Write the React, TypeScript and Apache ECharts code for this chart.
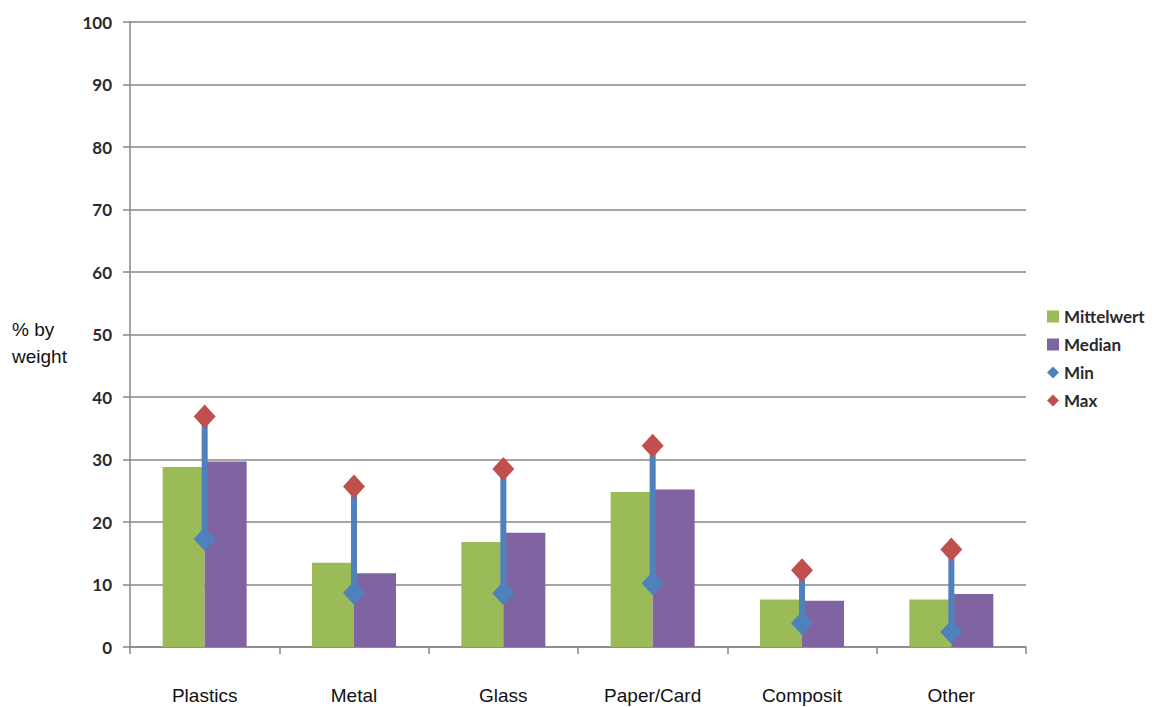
import React, { useEffect, useRef } from "react";
import * as echarts from "echarts";

const categories = ["Plastics", "Metal", "Glass", "Paper/Card", "Composit", "Other"];
const meanValues = [28.8, 13.5, 16.8, 24.8, 7.6, 7.6];
const medianValues = [29.7, 11.8, 18.3, 25.2, 7.4, 8.5];
const minValues = [17.3, 8.7, 8.6, 10.2, 3.8, 2.4];
const maxValues = [36.9, 25.7, 28.5, 32.2, 12.3, 15.6];
const yTicks = [0, 10, 20, 30, 40, 50, 60, 70, 80, 90, 100];

const GREEN = "#9BBB59";
const PURPLE = "#8064A2";
const BLUE = "#4F81BD";
const RED = "#C0504D";
const AXIS = "#878787";
const LABEL_FONT = "Lato, 'Noto Sans', sans-serif";
const CAT_FONT = "'Liberation Sans', Arial, sans-serif";

export default function App() {
  const ref = useRef<HTMLDivElement>(null);

  useEffect(() => {
    if (!ref.current) return;
    const chart = echarts.init(ref.current, undefined, { renderer: "svg" });

    const rangeData = categories.map((_, i) => [i, minValues[i], maxValues[i]]);

    chart.setOption({
      animation: false,
      backgroundColor: "#ffffff",
      grid: { left: 130, right: 129, top: 22, bottom: 60, containLabel: false },
      legend: {
        orient: "vertical",
        left: 1042,
        top: 303,
        itemWidth: 12,
        itemHeight: 12,
        itemGap: 11,
        textStyle: { fontFamily: LABEL_FONT, fontSize: 17, fontWeight: "bold", color: "#2a2a2a" },
        data: [
          { name: "Mittelwert", icon: "rect" },
          { name: "Median", icon: "rect" },
          { name: "Min", icon: "diamond" },
          { name: "Max", icon: "diamond" },
        ],
      },
      graphic: [
        {
          type: "text",
          left: 12,
          top: 316,
          style: {
            text: "% by\nweight",
            font: `19px ${CAT_FONT}`,
            lineHeight: 27,
            fill: "#111",
          },
        },
      ],
      xAxis: {
        type: "category",
        data: categories,
        boundaryGap: true,
        axisLine: { lineStyle: { color: AXIS, width: 1.5 } },
        axisTick: { show: true, length: 7, lineStyle: { color: AXIS, width: 1.5 } },
        axisLabel: { margin: 39, fontFamily: CAT_FONT, fontSize: 19, color: "#111" },
      },
      yAxis: {
        type: "value",
        min: yTicks[0],
        max: yTicks[yTicks.length - 1],
        interval: 10,
        axisLine: { show: true, lineStyle: { color: AXIS, width: 1.5 } },
        axisTick: { show: true, length: 7, lineStyle: { color: AXIS, width: 1.5 } },
        axisLabel: { margin: 18, fontFamily: LABEL_FONT, fontSize: 17, fontWeight: "bold", color: "#2a2a2a" },
        splitLine: { lineStyle: { color: AXIS, width: 1.5 } },
      },
      series: [
        {
          name: "Mittelwert",
          type: "bar",
          data: meanValues,
          barWidth: 42,
          barGap: "0%",
          itemStyle: { color: GREEN },
        },
        {
          name: "Median",
          type: "bar",
          data: medianValues,
          barWidth: 42,
          barGap: "0%",
          itemStyle: { color: PURPLE },
        },
        {
          name: "Range",
          type: "custom",
          z: 3,
          data: rangeData,
          encode: { x: 0, y: [1, 2] },
          renderItem: (_params: any, api: any) => {
            const lo = api.coord([api.value(0), api.value(1)]);
            const hi = api.coord([api.value(0), api.value(2)]);
            return {
              type: "line",
              shape: { x1: lo[0], y1: lo[1], x2: hi[0], y2: hi[1] },
              style: { stroke: BLUE, lineWidth: 6 },
            };
          },
        },
        {
          name: "Min",
          type: "scatter",
          z: 5,
          data: minValues,
          symbol: "diamond",
          symbolSize: [22, 24],
          itemStyle: { color: BLUE, opacity: 1 },
        },
        {
          name: "Max",
          type: "scatter",
          z: 5,
          data: maxValues,
          symbol: "diamond",
          symbolSize: [22, 24],
          itemStyle: { color: RED, opacity: 1 },
        },
      ],
    });

    return () => chart.dispose();
  }, []);

  return (
    <div
      ref={ref}
      style={{ position: "fixed", left: 0, top: 0, width: 1155, height: 707, background: "#fff" }}
    />
  );
}
